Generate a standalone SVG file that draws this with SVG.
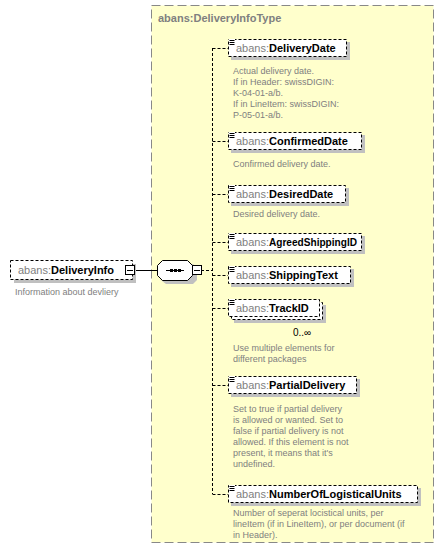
<svg xmlns="http://www.w3.org/2000/svg" width="444" height="558" viewBox="0 0 444 558">
<defs>
<style>
.yb{fill:#FFFFCC;stroke:#888;stroke-dasharray:9,4;stroke-width:1}
.ttl{font-family:"Liberation Sans",Arial,sans-serif;font-size:11px;font-weight:bold;fill:#808080}
.box{fill:#fff;stroke:#000;stroke-dasharray:3,2;stroke-width:1}
.sh{fill:#C0C0C0}
.nm{font-family:"Liberation Sans",Arial,sans-serif;font-size:11px}
.ns{fill:#808080;font-weight:normal}
.bn{fill:#000;font-weight:bold}
.doc{font-family:"Liberation Sans",Arial,sans-serif;font-size:9px;fill:#808080}
.con{fill:none;stroke:#000;stroke-dasharray:3,2;stroke-width:1}
.sol{fill:none;stroke:#000;stroke-width:1}
.ic{fill:none;stroke:#000;stroke-width:1}
.mb{fill:#fff;stroke:#000;stroke-width:1}
.occ{font-family:"Liberation Sans",Arial,sans-serif;font-size:10px;fill:#000}
</style>
<g id="icon"><rect x="0" y="0" width="6" height="6" fill="#fff"/><path class="ic" d="M0.5,1.5h5M0.5,3.5h5M0.5,5.5h5"/></g>
</defs>

<g id="type">
<rect class="yb" x="151.5" y="5.5" width="282" height="537"/>
<text class="ttl" x="158" y="22">abans:DeliveryInfoType</text>
</g>

<g id="connectors">
<path class="sol" d="M134,270.5H157"/>
<path class="con" d="M201,270.5H212.5"/>
<path class="con" d="M212.5,48V494"/>
<path class="con" d="M212.5,48.5H228M212.5,141.5H228M212.5,194.5H228M212.5,242.5H228M212.5,275.5H228M212.5,308.5H228M212.5,385.5H228M212.5,494.5H228"/>
</g>

<g id="DeliveryInfo">
<rect class="sh" x="14" y="264" width="122" height="19"/>
<rect class="box" x="10.5" y="260.5" width="122" height="19"/>
<text class="nm" x="18" y="274"><tspan class="ns">abans:</tspan><tspan class="bn">DeliveryInfo</tspan></text>
<rect class="mb" x="125.5" y="265.5" width="9" height="9"/>
<path class="sol" d="M127,270.5h6"/>
<text class="doc" x="15" y="295">Information about devliery</text>
</g>

<g id="sequence">
<path class="sh" d="M166,264H193L197,268V280L193,284H166L161,280V268Z"/>
<path class="mb" d="M162.5,260.5H187.5L192.5,265.5V275.5L187.5,280.5H162.5L157.5,275.5V265.5Z"/>
<path class="sol" d="M166,270.5H184"/>
<rect x="170" y="269" width="3" height="3" fill="#000"/>
<rect x="174" y="269" width="3" height="3" fill="#000"/>
<rect x="178" y="269" width="3" height="3" fill="#000"/>
<rect class="mb" x="192.5" y="265.5" width="9" height="9"/>
<path class="sol" d="M194,270.5h6"/>
</g>

<g id="DeliveryDate">
<rect class="sh" x="231" y="42" width="119" height="18"/>
<rect class="box" x="228.5" y="39.5" width="118" height="17"/>
<use href="#icon" x="229" y="39"/>
<text class="nm" x="236" y="52"><tspan class="ns">abans:</tspan><tspan class="bn">DeliveryDate</tspan></text>
<text class="doc"><tspan x="233" y="74">Actual delivery date.</tspan><tspan x="233" y="85">If in Header: swissDIGIN:</tspan><tspan x="233" y="96">K-04-01-a/b.</tspan><tspan x="233" y="107">If in LineItem: swissDIGIN:</tspan><tspan x="233" y="118">P-05-01-a/b.</tspan></text>
</g>

<g id="ConfirmedDate">
<rect class="sh" x="231" y="135" width="134" height="18"/>
<rect class="box" x="228.5" y="132.5" width="133" height="17"/>
<use href="#icon" x="229" y="132"/>
<text class="nm" x="236" y="145"><tspan class="ns">abans:</tspan><tspan class="bn">ConfirmedDate</tspan></text>
<text class="doc" x="233" y="167">Confirmed delivery date.</text>
</g>

<g id="DesiredDate">
<rect class="sh" x="231" y="188" width="118" height="18"/>
<rect class="box" x="228.5" y="185.5" width="117" height="17"/>
<use href="#icon" x="229" y="185"/>
<text class="nm" x="236" y="198"><tspan class="ns">abans:</tspan><tspan class="bn">DesiredDate</tspan></text>
<text class="doc" x="233" y="217">Desired delivery date.</text>
</g>

<g id="AgreedShippingID">
<rect class="sh" x="231" y="236" width="134" height="18"/>
<rect class="box" x="228.5" y="233.5" width="133" height="17"/>
<use href="#icon" x="229" y="233"/>
<text class="nm ns" x="236" y="246">abans:</text>
<text class="nm bn" x="269" y="246" textLength="88" lengthAdjust="spacingAndGlyphs">AgreedShippingID</text>
</g>

<g id="ShippingText">
<rect class="sh" x="231" y="269" width="123" height="18"/>
<rect class="box" x="228.5" y="266.5" width="122" height="17"/>
<use href="#icon" x="229" y="266"/>
<text class="nm" x="236" y="279"><tspan class="ns">abans:</tspan><tspan class="bn">ShippingText</tspan></text>
</g>

<g id="TrackID">
<rect class="sh" x="234" y="305" width="92" height="18"/>
<rect class="box" x="231.5" y="302.5" width="91" height="17"/>
<rect class="box" x="228.5" y="299.5" width="91" height="17"/>
<use href="#icon" x="229" y="299"/>
<text class="nm" x="236" y="312"><tspan class="ns">abans:</tspan><tspan class="bn">TrackID</tspan></text>
<text class="occ" x="293" y="336">0..∞</text>
<text class="doc"><tspan x="233" y="351">Use multiple elements for</tspan><tspan x="233" y="362">different packages</tspan></text>
</g>

<g id="PartialDelivery">
<rect class="sh" x="231" y="379" width="129" height="18"/>
<rect class="box" x="228.5" y="376.5" width="128" height="17"/>
<use href="#icon" x="229" y="376"/>
<text class="nm" x="236" y="389"><tspan class="ns">abans:</tspan><tspan class="bn">PartialDelivery</tspan></text>
<text class="doc"><tspan x="233" y="412">Set to true if partial delivery</tspan><tspan x="233" y="423">is allowed or wanted. Set to</tspan><tspan x="233" y="434">false if partial delivery is not</tspan><tspan x="233" y="445">allowed. If this element is not</tspan><tspan x="233" y="456">present, it means that it's</tspan><tspan x="233" y="467">undefined.</tspan></text>
</g>

<g id="NumberOfLogisticalUnits">
<rect class="sh" x="231" y="488" width="190" height="18"/>
<rect class="box" x="228.5" y="485.5" width="189" height="17"/>
<use href="#icon" x="229" y="485"/>
<text class="nm" x="236" y="498"><tspan class="ns">abans:</tspan><tspan class="bn">NumberOfLogisticalUnits</tspan></text>
<text class="doc"><tspan x="233" y="516">Number of seperat locistical units, per</tspan><tspan x="233" y="527">lineItem (if in LineItem), or per document (if</tspan><tspan x="233" y="538">in Header).</tspan></text>
</g>
</svg>
